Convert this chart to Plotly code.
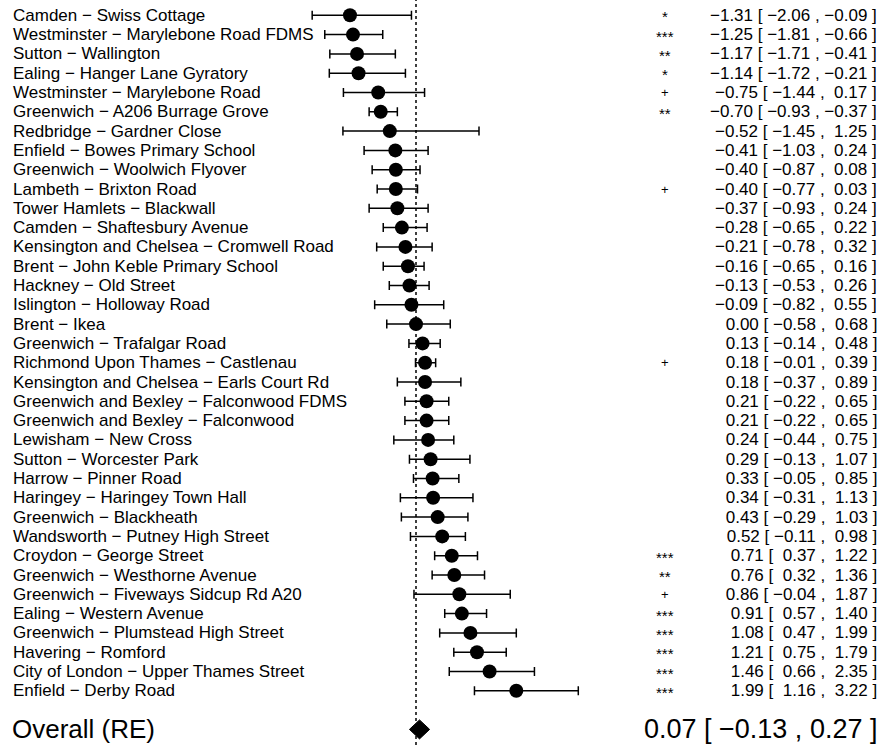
import plotly.graph_objects as go

# Monitoring sites (top to bottom) with estimate and 95% CI
sites = [
    "Camden − Swiss Cottage",
    "Westminster − Marylebone Road FDMS",
    "Sutton − Wallington",
    "Ealing − Hanger Lane Gyratory",
    "Westminster − Marylebone Road",
    "Greenwich − A206 Burrage Grove",
    "Redbridge − Gardner Close",
    "Enfield − Bowes Primary School",
    "Greenwich − Woolwich Flyover",
    "Lambeth − Brixton Road",
    "Tower Hamlets − Blackwall",
    "Camden − Shaftesbury Avenue",
    "Kensington and Chelsea − Cromwell Road",
    "Brent − John Keble Primary School",
    "Hackney − Old Street",
    "Islington − Holloway Road",
    "Brent − Ikea",
    "Greenwich − Trafalgar Road",
    "Richmond Upon Thames − Castlenau",
    "Kensington and Chelsea − Earls Court Rd",
    "Greenwich and Bexley − Falconwood FDMS",
    "Greenwich and Bexley − Falconwood",
    "Lewisham − New Cross",
    "Sutton − Worcester Park",
    "Harrow − Pinner Road",
    "Haringey − Haringey Town Hall",
    "Greenwich − Blackheath",
    "Wandsworth − Putney High Street",
    "Croydon − George Street",
    "Greenwich − Westhorne Avenue",
    "Greenwich − Fiveways Sidcup Rd A20",
    "Ealing − Western Avenue",
    "Greenwich − Plumstead High Street",
    "Havering − Romford",
    "City of London − Upper Thames Street",
    "Enfield − Derby Road",
]
estimate = [-1.31, -1.25, -1.17, -1.14, -0.75, -0.70, -0.52, -0.41, -0.40, -0.40,
            -0.37, -0.28, -0.21, -0.16, -0.13, -0.09, 0.00, 0.13, 0.18, 0.18,
            0.21, 0.21, 0.24, 0.29, 0.33, 0.34, 0.43, 0.52, 0.71, 0.76,
            0.86, 0.91, 1.08, 1.21, 1.46, 1.99]
ci_lower = [-2.06, -1.81, -1.71, -1.72, -1.44, -0.93, -1.45, -1.03, -0.87, -0.77,
            -0.93, -0.65, -0.78, -0.65, -0.53, -0.82, -0.58, -0.14, -0.01, -0.37,
            -0.22, -0.22, -0.44, -0.13, -0.05, -0.31, -0.29, -0.11, 0.37, 0.32,
            -0.04, 0.57, 0.47, 0.75, 0.66, 1.16]
ci_upper = [-0.09, -0.66, -0.41, -0.21, 0.17, -0.37, 1.25, 0.24, 0.08, 0.03,
            0.24, 0.22, 0.32, 0.16, 0.26, 0.55, 0.68, 0.48, 0.39, 0.89,
            0.65, 0.65, 0.75, 1.07, 0.85, 1.13, 1.03, 0.98, 1.22, 1.36,
            1.87, 1.40, 1.99, 1.79, 2.35, 3.22]
signif = ["*", "***", "**", "*", "+", "**", "", "", "", "+",
          "", "", "", "", "", "", "", "", "+", "",
          "", "", "", "", "", "", "", "", "***", "**",
          "+", "***", "***", "***", "***", "***"]

overall_label = "Overall (RE)"
overall_est, overall_lo, overall_hi = 0.07, -0.13, 0.27

W, H = 879, 745
ZERO_PX, PX_PER_UNIT = 416, 50.4
ROW0_PX, ROW_STEP = 15.3, 19.3

n = len(sites)
rows = list(range(n))
overall_row = n + 1

x_range = [-ZERO_PX / PX_PER_UNIT, (W - ZERO_PX) / PX_PER_UNIT]
y_range = [(H - ROW0_PX) / ROW_STEP, -ROW0_PX / ROW_STEP]

NBSP = "\u00a0"


def fmt(v, pad=True):
    s = f"{abs(v):.2f}"
    if v < 0:
        return "−" + s
    return (NBSP + s) if pad else s


def ci_text(e, lo, hi, pad=True):
    return f"{fmt(e, pad)}{NBSP}[{NBSP}{fmt(lo, pad)}{NBSP},{NBSP}{fmt(hi, pad)}{NBSP}]"


def px(x):
    return x / W


fig = go.Figure()

# reference line at zero
fig.add_shape(type="line", xref="x", yref="paper", x0=0, x1=0, y0=0, y1=1,
              line=dict(color="black", width=1.5, dash="dot"))

# study estimates with CIs
fig.add_trace(go.Scatter(
    x=estimate, y=rows, mode="markers",
    marker=dict(symbol="circle", size=14, color="black"),
    error_x=dict(type="data", symmetric=False,
                 array=[u - e for u, e in zip(ci_upper, estimate)],
                 arrayminus=[e - l for e, l in zip(estimate, ci_lower)],
                 color="black", thickness=1.5, width=4.5),
    hoverinfo="skip", showlegend=False,
))

# pooled estimate diamond
half_h = 9.5 / ROW_STEP
fig.add_trace(go.Scatter(
    x=[overall_lo, overall_est, overall_hi, overall_est, overall_lo],
    y=[overall_row, overall_row - half_h, overall_row, overall_row + half_h, overall_row],
    mode="lines", fill="toself", fillcolor="black",
    line=dict(color="black", width=1), hoverinfo="skip", showlegend=False,
))

FAM = "Liberation Sans, Arial, sans-serif"
font = dict(family=FAM, size=17, color="black")

ann = []
for i in rows:
    ann.append(dict(x=px(11), y=i, xref="paper", yref="y", text=sites[i],
                    xanchor="left", showarrow=False, font=font))
    if signif[i]:
        is_star = signif[i].startswith("*")
        ann.append(dict(x=px(665), y=i, xref="paper", yref="y", text=signif[i],
                        xanchor="center", showarrow=False,
                        yshift=-1.5 if is_star else 0,
                        font=dict(family=FAM, size=15 if is_star else 13, color="black")))
    ann.append(dict(x=px(879), y=i, xref="paper", yref="y",
                    text=ci_text(estimate[i], ci_lower[i], ci_upper[i]),
                    xanchor="right", showarrow=False, font=font))

ann.append(dict(x=px(10), y=overall_row, xref="paper", yref="y", text=overall_label,
                xanchor="left", showarrow=False, font=dict(family=FAM, size=26, color="black")))
ann.append(dict(x=px(879), y=overall_row, xref="paper", yref="y",
                text=ci_text(overall_est, overall_lo, overall_hi, pad=False),
                xanchor="right", showarrow=False, font=dict(family=FAM, size=27, color="black")))

fig.update_layout(
    width=W, height=H, margin=dict(l=0, r=0, t=0, b=0),
    paper_bgcolor="white", plot_bgcolor="white",
    xaxis=dict(range=x_range, visible=False, fixedrange=True),
    yaxis=dict(range=y_range, visible=False, fixedrange=True),
    annotations=ann,
)

fig.write_html("out.html")
